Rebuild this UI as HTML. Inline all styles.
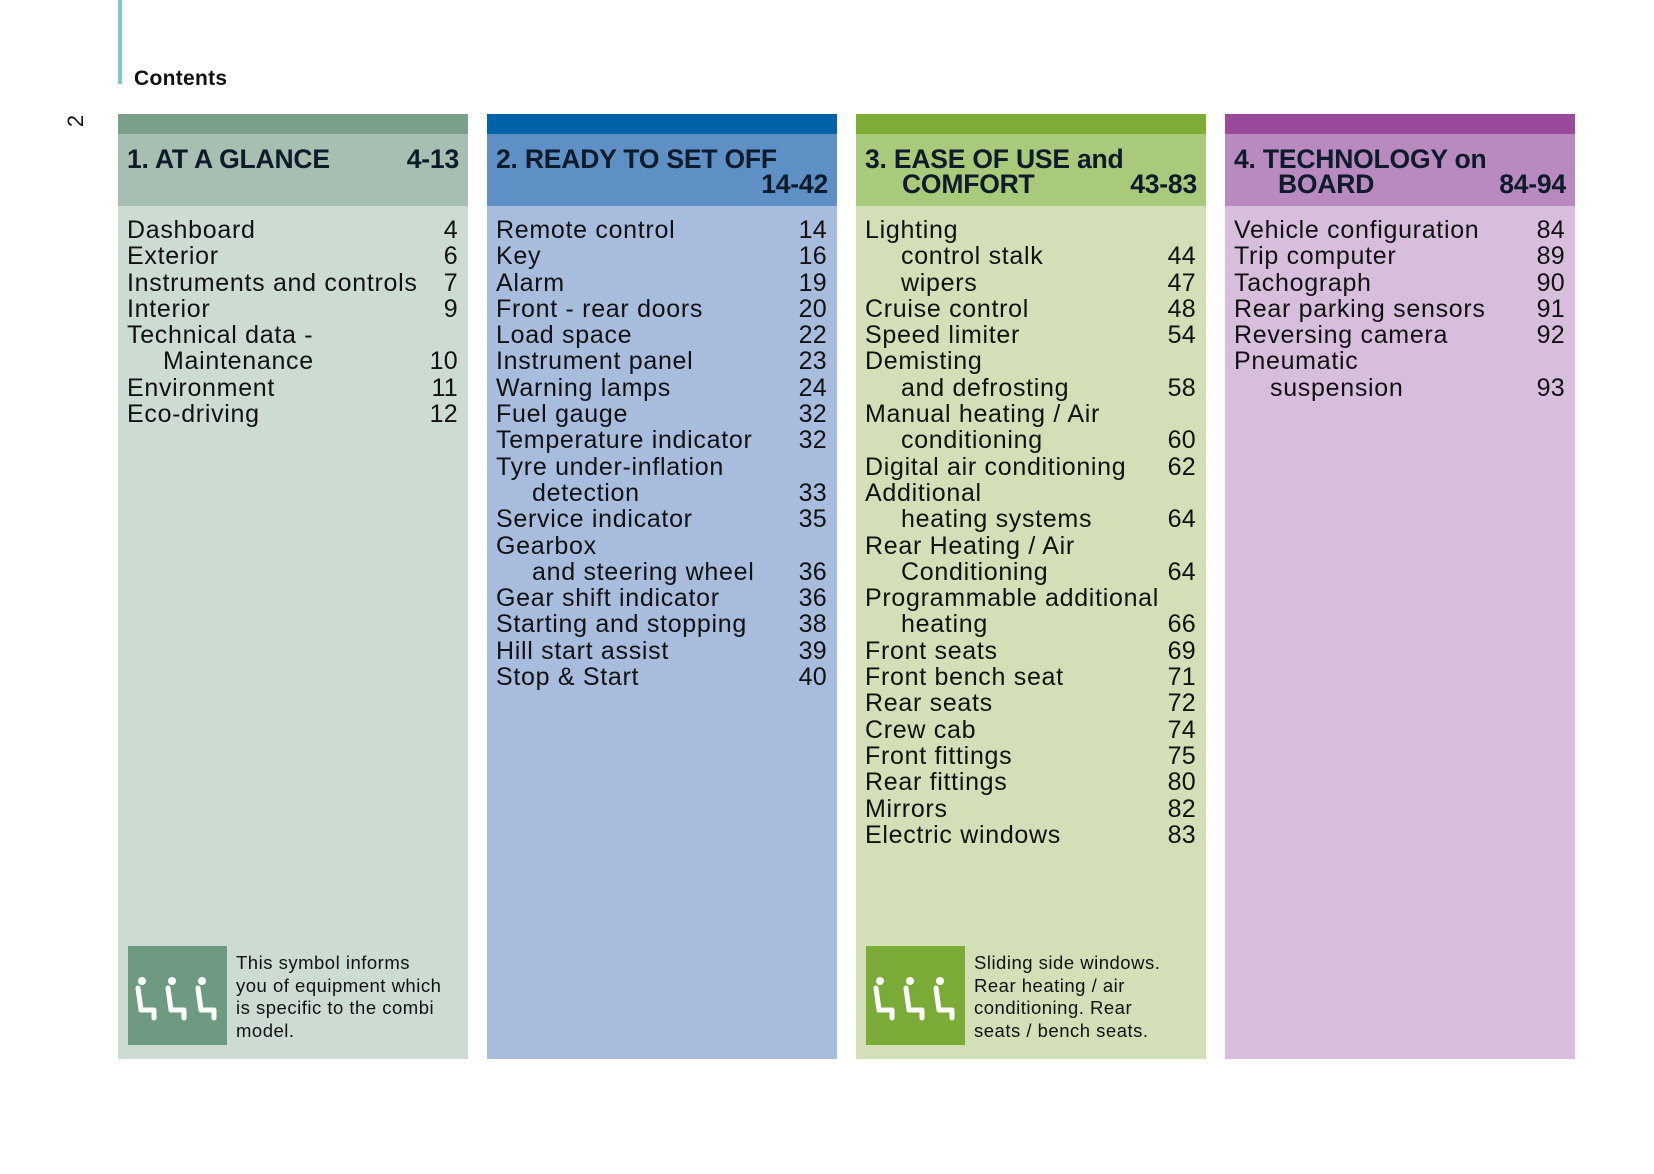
<!DOCTYPE html>
<html><head><meta charset="utf-8"><style>
*{margin:0;padding:0;box-sizing:border-box}
body{width:1654px;height:1174px;background:#fff;position:relative;overflow:hidden;font-family:"Liberation Sans",sans-serif;color:#111}
.tl{position:absolute;left:118px;top:0;width:4px;height:84px;background:#7cc8c8}
.ct{position:absolute;left:134px;top:67px;font-size:21px;font-weight:bold;letter-spacing:.3px}
.pn{position:absolute;left:70px;top:108px;font-size:22px;transform:rotate(-90deg);transform-origin:center}
.p{position:absolute;top:114px;width:350px;height:945px}
.bar{height:20px}
.hd{height:72px;position:relative;font-weight:bold;font-size:26.5px;color:#0d1b2a;letter-spacing:-.2px}
.hd div{position:absolute;left:9px;right:9px;height:26px;line-height:26px;white-space:nowrap}
.hd .r{position:absolute;right:0;left:auto}
.ls{position:absolute;left:9px;right:10px;top:103px;font-size:25px;letter-spacing:.7px}
.ls div{height:26.3px;line-height:26.3px;position:relative;white-space:nowrap}
.ls .i{padding-left:36px}
.ls span{position:absolute;right:0;letter-spacing:.3px}
.fn{position:absolute;left:10px;top:832px;width:99px;height:99px}
.ft{position:absolute;left:118px;top:838px;font-size:18.5px;line-height:22.5px;letter-spacing:.5px;white-space:nowrap}
</style></head><body>
<div class="tl"></div>
<div class="ct">Contents</div>
<div class="pn">2</div>

<div class="p" style="left:118px;background:#cddcd3">
<div class="bar" style="background:#7a9f8a"></div>
<div class="hd" style="background:#a6bfb1"><div style="top:12px">1. AT A GLANCE<span class="r">4-13</span></div></div>
<div class="ls">
<div>Dashboard<span>4</span></div>
<div>Exterior<span>6</span></div>
<div>Instruments and controls<span>7</span></div>
<div>Interior<span>9</span></div>
<div>Technical data -</div>
<div class="i">Maintenance<span>10</span></div>
<div>Environment<span>11</span></div>
<div>Eco-driving<span>12</span></div>
</div>
<svg class="fn" viewBox="0 0 99 99"><rect width="99" height="99" fill="#6f9a82"/>
<g fill="none" stroke="#fff" stroke-width="5" stroke-linecap="round" stroke-linejoin="round">
<path d="M10 42 L13 64 L26 64 L26 72"/><path d="M40 42 L43 64 L56 64 L56 72"/><path d="M70 42 L73 64 L86 64 L86 72"/></g>
<g fill="#fff"><circle cx="14" cy="35" r="4"/><circle cx="44" cy="35" r="4"/><circle cx="74" cy="35" r="4"/></g></svg>
<div class="ft">This symbol informs<br>you of equipment which<br>is specific to the combi<br>model.</div>
</div>

<div class="p" style="left:487px;background:#a8bcde">
<div class="bar" style="background:#0062a8"></div>
<div class="hd" style="background:#5e8fc5"><div style="top:12px">2. READY TO SET OFF</div><div style="top:37px;text-align:right">14-42</div></div>
<div class="ls">
<div>Remote control<span>14</span></div>
<div>Key<span>16</span></div>
<div>Alarm<span>19</span></div>
<div>Front - rear doors<span>20</span></div>
<div>Load space<span>22</span></div>
<div>Instrument panel<span>23</span></div>
<div>Warning lamps<span>24</span></div>
<div>Fuel gauge<span>32</span></div>
<div>Temperature indicator<span>32</span></div>
<div>Tyre under-inflation</div>
<div class="i">detection<span>33</span></div>
<div>Service indicator<span>35</span></div>
<div>Gearbox</div>
<div class="i">and steering wheel<span>36</span></div>
<div>Gear shift indicator<span>36</span></div>
<div>Starting and stopping<span>38</span></div>
<div>Hill start assist<span>39</span></div>
<div>Stop &amp; Start<span>40</span></div>
</div>
</div>

<div class="p" style="left:856px;background:#d3dfb6">
<div class="bar" style="background:#7fab37"></div>
<div class="hd" style="background:#a9c97b"><div style="top:12px">3. EASE OF USE and</div><div style="top:37px;padding-left:37px">COMFORT<span class="r">43-83</span></div></div>
<div class="ls">
<div>Lighting</div>
<div class="i">control stalk<span>44</span></div>
<div class="i">wipers<span>47</span></div>
<div>Cruise control<span>48</span></div>
<div>Speed limiter<span>54</span></div>
<div>Demisting</div>
<div class="i">and defrosting<span>58</span></div>
<div>Manual heating / Air</div>
<div class="i">conditioning<span>60</span></div>
<div>Digital air conditioning<span>62</span></div>
<div>Additional</div>
<div class="i">heating systems<span>64</span></div>
<div>Rear Heating / Air</div>
<div class="i">Conditioning<span>64</span></div>
<div>Programmable additional</div>
<div class="i">heating<span>66</span></div>
<div>Front seats<span>69</span></div>
<div>Front bench seat<span>71</span></div>
<div>Rear seats<span>72</span></div>
<div>Crew cab<span>74</span></div>
<div>Front fittings<span>75</span></div>
<div>Rear fittings<span>80</span></div>
<div>Mirrors<span>82</span></div>
<div>Electric windows<span>83</span></div>
</div>
<svg class="fn" viewBox="0 0 99 99"><rect width="99" height="99" fill="#7aab37"/>
<g fill="none" stroke="#fff" stroke-width="5" stroke-linecap="round" stroke-linejoin="round">
<path d="M10 42 L13 64 L26 64 L26 72"/><path d="M40 42 L43 64 L56 64 L56 72"/><path d="M70 42 L73 64 L86 64 L86 72"/></g>
<g fill="#fff"><circle cx="14" cy="35" r="4"/><circle cx="44" cy="35" r="4"/><circle cx="74" cy="35" r="4"/></g></svg>
<div class="ft">Sliding side windows.<br>Rear heating / air<br>conditioning. Rear<br>seats / bench seats.</div>
</div>

<div class="p" style="left:1225px;background:#d7bedc">
<div class="bar" style="background:#9a4a9b"></div>
<div class="hd" style="background:#b98abf"><div style="top:12px">4. TECHNOLOGY on</div><div style="top:37px;padding-left:44px">BOARD<span class="r">84-94</span></div></div>
<div class="ls">
<div>Vehicle configuration<span>84</span></div>
<div>Trip computer<span>89</span></div>
<div>Tachograph<span>90</span></div>
<div>Rear parking sensors<span>91</span></div>
<div>Reversing camera<span>92</span></div>
<div>Pneumatic</div>
<div class="i">suspension<span>93</span></div>
</div>
</div>
</body></html>
